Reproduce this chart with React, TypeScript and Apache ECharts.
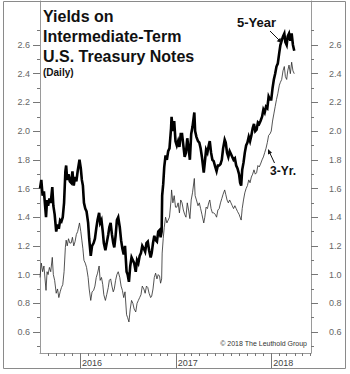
import React, { useEffect, useRef } from "react";
import * as echarts from "echarts";

// ---- Data (roughly every 5-10 days) ----
const dates2015 = ["2015-08-01","2015-08-06","2015-08-11","2015-08-16","2015-08-24","2015-08-28","2015-09-01","2015-09-06","2015-09-11","2015-09-17","2015-09-21","2015-09-26","2015-10-02","2015-10-07","2015-10-12","2015-10-17","2015-10-22","2015-10-27","2015-11-01","2015-11-06","2015-11-09","2015-11-13","2015-11-18","2015-11-23","2015-11-28","2015-12-03","2015-12-08","2015-12-13","2015-12-18","2015-12-23","2015-12-30"];
const five2015 = [1.60,1.66,1.55,1.58,1.40,1.52,1.48,1.53,1.50,1.61,1.48,1.42,1.30,1.35,1.32,1.38,1.37,1.40,1.50,1.72,1.76,1.66,1.70,1.65,1.64,1.72,1.62,1.68,1.65,1.72,1.80];
const three2015 = [0.98,1.08,1.02,1.06,0.89,1.02,1.00,1.05,1.02,1.12,1.00,0.96,0.87,0.90,0.84,0.88,0.91,0.93,1.02,1.19,1.24,1.20,1.25,1.22,1.22,1.26,1.20,1.23,1.28,1.30,1.36];

const dates2016 = ["2016-01-04","2016-01-08","2016-01-12","2016-01-16","2016-01-21","2016-01-26","2016-02-01","2016-02-05","2016-02-11","2016-02-16","2016-02-22","2016-02-27","2016-03-03","2016-03-08","2016-03-14","2016-03-18","2016-03-23","2016-03-28","2016-04-01","2016-04-07","2016-04-12","2016-04-18","2016-04-22","2016-04-27","2016-05-02","2016-05-07","2016-05-11","2016-05-16","2016-05-21","2016-05-26","2016-06-01","2016-06-06","2016-06-11","2016-06-16","2016-06-21","2016-06-27","2016-07-01","2016-07-06","2016-07-11","2016-07-16","2016-07-21","2016-07-26","2016-08-01","2016-08-06","2016-08-11","2016-08-16","2016-08-21","2016-08-26","2016-09-01","2016-09-06","2016-09-11","2016-09-16","2016-09-21","2016-09-27","2016-10-01","2016-10-06","2016-10-11","2016-10-16","2016-10-21","2016-10-26","2016-10-31","2016-11-04","2016-11-08","2016-11-10","2016-11-14","2016-11-18","2016-11-23","2016-11-28","2016-12-03","2016-12-08","2016-12-14","2016-12-16","2016-12-21","2016-12-26","2016-12-31"];
const five2016 = [1.74,1.66,1.62,1.50,1.46,1.44,1.36,1.25,1.13,1.20,1.22,1.25,1.32,1.38,1.43,1.36,1.38,1.30,1.22,1.17,1.22,1.28,1.33,1.36,1.28,1.22,1.19,1.27,1.38,1.40,1.33,1.24,1.18,1.14,1.20,1.02,1.00,0.95,1.06,1.12,1.10,1.08,1.02,1.10,1.08,1.13,1.15,1.20,1.18,1.16,1.22,1.23,1.17,1.12,1.15,1.22,1.27,1.24,1.23,1.30,1.31,1.26,1.30,1.55,1.63,1.75,1.83,1.80,1.86,1.88,2.02,2.10,2.00,2.07,1.93];
const three2016 = [1.30,1.24,1.18,1.10,1.08,1.05,0.98,0.90,0.82,0.88,0.89,0.92,0.98,1.01,1.06,0.96,0.98,0.93,0.86,0.82,0.86,0.91,0.96,0.97,0.92,0.88,0.90,0.96,1.00,1.02,0.98,0.92,0.89,0.84,0.88,0.72,0.70,0.67,0.76,0.82,0.80,0.76,0.74,0.80,0.82,0.84,0.86,0.92,0.90,0.87,0.92,0.91,0.87,0.84,0.85,0.90,0.98,1.01,0.97,1.00,0.99,0.94,0.97,1.15,1.25,1.33,1.40,1.36,1.38,1.40,1.52,1.59,1.50,1.55,1.47];

const dates2017 = ["2017-01-05","2017-01-10","2017-01-15","2017-01-20","2017-01-25","2017-01-30","2017-02-04","2017-02-09","2017-02-14","2017-02-19","2017-02-24","2017-03-01","2017-03-06","2017-03-13","2017-03-16","2017-03-21","2017-03-27","2017-04-01","2017-04-06","2017-04-11","2017-04-18","2017-04-22","2017-04-27","2017-05-02","2017-05-07","2017-05-11","2017-05-16","2017-05-21","2017-05-26","2017-06-01","2017-06-06","2017-06-11","2017-06-16","2017-06-21","2017-06-26","2017-07-01","2017-07-07","2017-07-11","2017-07-16","2017-07-21","2017-07-26","2017-07-31","2017-08-05","2017-08-10","2017-08-15","2017-08-20","2017-08-25","2017-08-31","2017-09-04","2017-09-08","2017-09-12","2017-09-17","2017-09-22","2017-09-27","2017-10-02","2017-10-07","2017-10-12","2017-10-17","2017-10-22","2017-10-27","2017-11-01","2017-11-06","2017-11-11","2017-11-16","2017-11-21","2017-11-27","2017-12-02","2017-12-07","2017-12-12","2017-12-17","2017-12-22","2017-12-27"];
const five2017 = [1.90,1.93,1.89,1.98,1.98,1.90,1.82,1.85,1.95,1.88,1.80,1.98,2.03,2.13,2.00,1.96,1.93,1.92,1.88,1.82,1.71,1.78,1.87,1.85,1.90,1.93,1.85,1.80,1.79,1.75,1.72,1.76,1.76,1.77,1.80,1.88,1.94,1.92,1.85,1.82,1.86,1.84,1.82,1.80,1.81,1.76,1.74,1.70,1.64,1.62,1.73,1.78,1.85,1.90,1.92,1.96,1.93,1.97,2.02,2.05,2.00,2.01,2.06,2.05,2.07,2.10,2.15,2.13,2.17,2.16,2.24,2.22];
const three2017 = [1.47,1.50,1.43,1.52,1.50,1.45,1.42,1.40,1.50,1.45,1.39,1.52,1.57,1.67,1.55,1.52,1.48,1.50,1.46,1.42,1.36,1.40,1.47,1.46,1.50,1.52,1.46,1.43,1.43,1.42,1.40,1.45,1.46,1.50,1.53,1.56,1.59,1.56,1.52,1.50,1.52,1.50,1.48,1.46,1.48,1.46,1.44,1.42,1.40,1.38,1.46,1.52,1.57,1.60,1.62,1.66,1.64,1.68,1.70,1.73,1.70,1.71,1.76,1.75,1.77,1.80,1.82,1.85,1.88,1.92,1.97,1.98];

const dates2018 = ["2018-01-01","2018-01-06","2018-01-11","2018-01-16","2018-01-21","2018-01-26","2018-02-01","2018-02-05","2018-02-10","2018-02-15","2018-02-20","2018-02-24","2018-03-01","2018-03-05","2018-03-10","2018-03-15","2018-03-20","2018-03-25","2018-03-30"];
const five2018 = [2.22,2.30,2.36,2.40,2.45,2.47,2.55,2.60,2.63,2.66,2.68,2.62,2.60,2.66,2.68,2.63,2.68,2.60,2.56];
const three2018 = [2.00,2.07,2.12,2.17,2.22,2.26,2.32,2.34,2.36,2.42,2.45,2.38,2.36,2.42,2.46,2.40,2.48,2.42,2.40];

const dates = [...dates2015, ...dates2016, ...dates2017, ...dates2018];
const fiveYear = [...five2015, ...five2016, ...five2017, ...five2018];
const threeYear = [...three2015, ...three2016, ...three2017, ...three2018];

const yMajorTicks = [0.6, 0.8, 1.0, 1.2, 1.4, 1.6, 1.8, 2.0, 2.2, 2.4, 2.6];
const yMinorTicks = [0.5, 0.7, 0.9, 1.1, 1.3, 1.5, 1.7, 1.9, 2.1, 2.3, 2.5, 2.7];
const yearTicks = ["2016-01-01", "2017-01-01", "2018-01-01"];
const xStart = "2015-08-01";
const xEnd = "2018-06-02";
const yMin = 0.4537;
const yMax = 2.9066;

const ts = (s: string) => {
  const [y, m, d] = s.split("-").map(Number);
  return Date.UTC(y, m - 1, d);
};

const FONT = '"Liberation Sans", Arial, sans-serif';
const AXIS = "#9a9a9a";

export default function App() {
  const ref = useRef<HTMLDivElement>(null);
  useEffect(() => {
    document.body.style.margin = "0";
    const chart = echarts.init(ref.current!, null, { renderer: "svg" });
    const xMin = ts(xStart);
    const xMax = ts(xEnd);
    const monthTicks: number[] = [];
    for (let y = 2015; y <= 2018; y++) {
      for (let m = 0; m < 12; m++) {
        const t = Date.UTC(y, m, 1);
        if (t > xMin && t < xMax) monthTicks.push(t);
      }
    }
    const yearTs = yearTicks.map(ts);
    const n = Math.min(dates.length, fiveYear.length, threeYear.length);
    const five = [] as any[];
    const three = [] as any[];
    for (let i = 0; i < n; i++) {
      five.push([ts(dates[i]), fiveYear[i]]);
      three.push([ts(dates[i]), threeYear[i]]);
    }
    const yBase = {
      type: "value",
      min: yMin,
      max: yMax,
      splitLine: { show: false },
      gridIndex: 0,
    };
    const labelStyle = { color: "#666", fontSize: 9, fontFamily: FONT };
    const option: any = {
      animation: false,
      textStyle: { fontFamily: FONT },
      grid: { left: 40, right: 39, top: 1, bottom: 21, containLabel: false, outerBoundsMode: "none" },
      xAxis: [
        {
          type: "value",
          min: xMin,
          max: xMax,
          position: "bottom",
          axisLine: { show: true, lineStyle: { color: AXIS, width: 1 } },
          axisTick: { show: true, customValues: monthTicks, length: 3, lineStyle: { color: "#777" } },
          axisLabel: { show: false },
          splitLine: { show: false },
        },
        {
          type: "value",
          min: xMin,
          max: xMax,
          position: "bottom",
          axisLine: { show: false },
          axisTick: { show: true, customValues: yearTs, length: 16, lineStyle: { color: "#777" } },
          axisLabel: {
            show: true,
            customValues: yearTs,
            formatter: (v: number) => String(new Date(v).getUTCFullYear()),
            align: "left",
            padding: [0, 0, 0, 2],
            margin: 5,
            color: "#444",
            fontSize: 9,
            fontFamily: FONT,
          },
          splitLine: { show: false },
        },
      ],
      yAxis: [
        {
          ...yBase,
          position: "left",
          axisLine: { show: true, lineStyle: { color: AXIS } },
          axisTick: { show: true, customValues: yMajorTicks, length: 7, lineStyle: { color: "#777" } },
          axisLabel: { show: true, customValues: yMajorTicks, formatter: (v: number) => v.toFixed(1), margin: 10, ...labelStyle },
        },
        {
          ...yBase,
          position: "left",
          axisLine: { show: false },
          axisTick: { show: true, customValues: yMinorTicks, length: 3, lineStyle: { color: "#777" } },
          axisLabel: { show: false },
        },
        {
          ...yBase,
          position: "right",
          axisLine: { show: true, lineStyle: { color: AXIS } },
          axisTick: { show: true, customValues: yMajorTicks, length: 7, lineStyle: { color: "#777" } },
          axisLabel: { show: true, customValues: yMajorTicks, formatter: (v: number) => v.toFixed(1), margin: 18, ...labelStyle },
        },
        {
          ...yBase,
          position: "right",
          axisLine: { show: false },
          axisTick: { show: true, customValues: yMinorTicks, length: 3, lineStyle: { color: "#777" } },
          axisLabel: { show: false },
        },
      ],
      series: [
        {
          name: "3-Yr.",
          type: "line",
          xAxisIndex: 0,
          yAxisIndex: 0,
          data: three,
          showSymbol: false,
          symbol: "none",
          lineStyle: { color: "#2a2a2a", width: 0.8 },
          z: 2,
        },
        {
          name: "5-Year",
          type: "line",
          xAxisIndex: 0,
          yAxisIndex: 0,
          data: five,
          showSymbol: false,
          symbol: "none",
          lineStyle: { color: "#000", width: 2.6, join: "miter" },
          z: 3,
        },
      ],
      graphic: [
        {
          type: "rect",
          silent: true,
          shape: { x: 3.5, y: 1.5, width: 342, height: 367 },
          style: { fill: "none", stroke: "#8a8a8a", lineWidth: 1 },
          z: 10,
        },
        { type: "text", x: 43, y: 16, style: { text: "Yields on", fontSize: 16, fontWeight: "bold", fontFamily: FONT, fill: "#111", verticalAlign: "middle" }, z: 10 },
        { type: "text", x: 43, y: 36, style: { text: "Intermediate-Term", fontSize: 16, fontWeight: "bold", fontFamily: FONT, fill: "#111", verticalAlign: "middle" }, z: 10 },
        { type: "text", x: 43, y: 56, style: { text: "U.S. Treasury Notes", fontSize: 16, fontWeight: "bold", fontFamily: FONT, fill: "#111", verticalAlign: "middle" }, z: 10 },
        { type: "text", x: 43, y: 72, style: { text: "(Daily)", fontSize: 10, fontWeight: "bold", fontFamily: FONT, fill: "#111", verticalAlign: "middle" }, z: 10 },
        { type: "text", x: 237, y: 22, style: { text: "5-Year", fontSize: 13, fontWeight: "bold", fontFamily: FONT, fill: "#111", verticalAlign: "middle" }, z: 10 },
        { type: "line", shape: { x1: 270, y1: 31, x2: 279.5, y2: 40.5 }, style: { stroke: "#111", lineWidth: 1 }, z: 10 },
        { type: "polygon", shape: { points: [[282, 43], [280.3, 37.7], [276.7, 41.3]] }, style: { fill: "#111" }, z: 10 },
        { type: "text", x: 270, y: 171, style: { text: "3-Yr.", fontSize: 12, fontWeight: "bold", fontFamily: FONT, fill: "#111", verticalAlign: "middle" }, z: 10 },
        { type: "line", shape: { x1: 274.5, y1: 163, x2: 269.6, y2: 152.5 }, style: { stroke: "#111", lineWidth: 1 }, z: 10 },
        { type: "polygon", shape: { points: [[268, 149], [272, 152.7], [268, 154.5]] }, style: { fill: "#111" }, z: 10 },
        { type: "text", x: 307, y: 343, style: { text: "© 2018 The Leuthold Group", fontSize: 7, fontFamily: FONT, fill: "#333", align: "right", verticalAlign: "middle" }, z: 10 },
      ],
    };
    chart.setOption(option);
    return () => chart.dispose();
  }, []);
  return <div ref={ref} style={{ position: "absolute", left: 0, top: 0, width: 350, height: 374 }} />;
}
